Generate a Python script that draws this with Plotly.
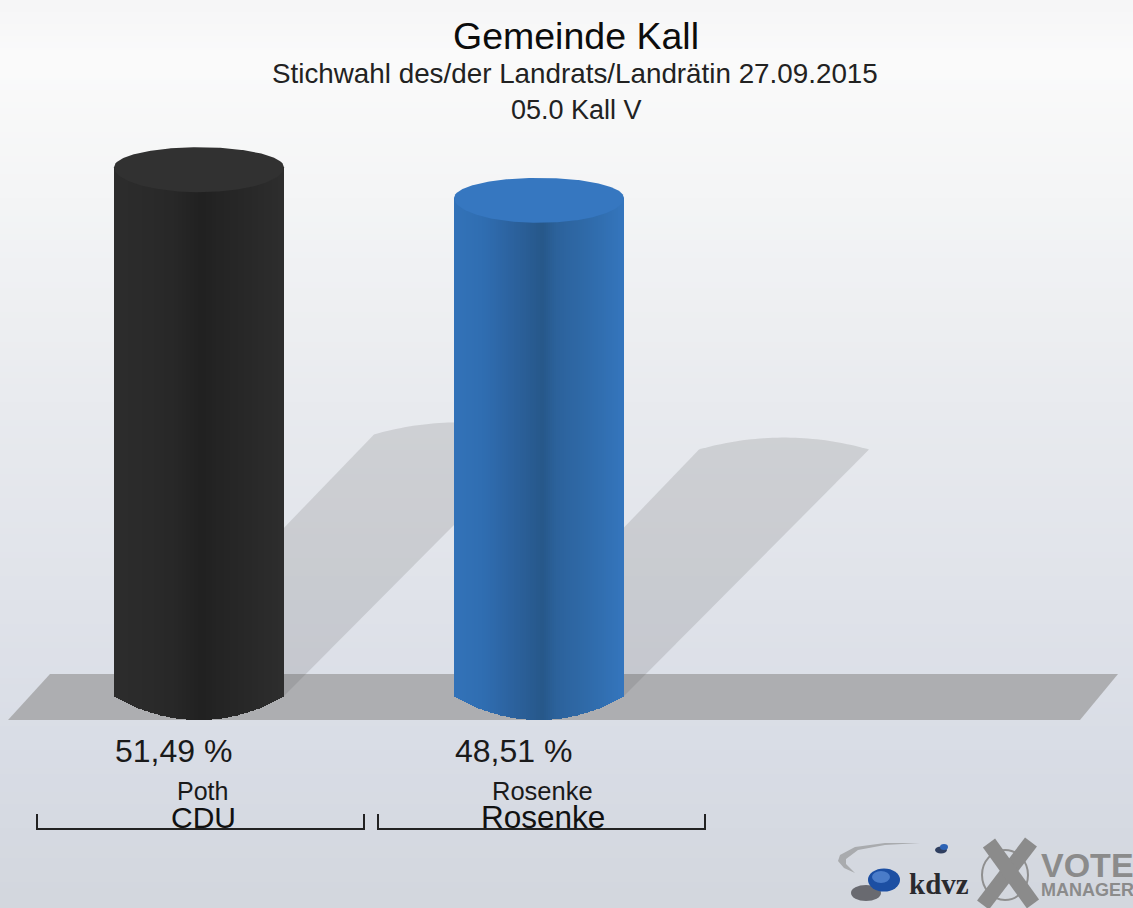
import numpy as np
import plotly.graph_objects as go

# ---- data ----
candidates = ["Poth", "Rosenke"]
parties = ["CDU", "Rosenke"]
values = [51.49, 48.51]
title_lines = ["Gemeinde Kall", "Stichwahl des/der Landrats/Landrätin 27.09.2015", "05.0 Kall V"]

# ---- style ----
W, H = 1133, 908
BASE_PX, PX_PER_UNIT = 696.0, 10.27
FONT = "Liberation Sans"
bar_lefts = [114, 454]
BAR_W = 170
cap_colors = ["#313131", "#3677c0"]
shade_pos = [0.0, 0.17, 0.35, 0.52, 0.6, 0.85, 1.0]
shades = [
    [(45, 45, 45), (43, 43, 43), (40, 40, 40), (33, 33, 33), (36, 36, 36), (42, 42, 42), (46, 46, 46)],
    [(51, 115, 185), (48, 110, 178), (44, 98, 158), (39, 88, 138), (44, 98, 155), (49, 110, 175), (53, 118, 190)],
]


def py(px):
    return (BASE_PX - px) / PX_PER_UNIT


def arc(dx, half, sag):
    R = (half ** 2 + sag ** 2) / (2 * sag)
    return np.sqrt(R ** 2 - dx ** 2) - (R - sag)


def rect(x0, x1, y0, y1, color):
    return dict(type="rect", xref="x", yref="y", x0=x0, x1=x1, y0=py(y0), y1=py(y1),
                fillcolor=color, line=dict(width=0), layer="below")


def lerp_hex(stops, t):
    ys = [s[0] for s in stops]
    return tuple(np.interp(t, ys, [s[1][k] for s in stops]) for k in range(3))


shapes = []

# background: vertical gradient + soft horizontal overlay
row_stops = [(0, (246, 246, 247)), (60, (251, 251, 251)), (200, (244, 245, 246)), (400, (233, 235, 239)),
             (600, (224, 227, 234)), (750, (217, 221, 230)), (908, (211, 215, 222))]
for y in range(0, H, 6):
    c = lerp_hex(row_stops, y + 3)
    shapes.append(rect(0, W, y, y + 6.5, "rgb(%d,%d,%d)" % c))


def path(points):
    return "M " + " L ".join(f"{x:.1f},{y:.3f}" for x, y in points) + " Z"


# floor
floor = [(8, 720), (50, 674), (1118, 674), (1080, 720)]
shapes.append(dict(type="path", xref="x", yref="y", layer="below", fillcolor="#adaeb1", line=dict(width=0),
                   path=path([(x, py(y)) for x, y in floor])))

# cast shadows scale with each value
for left, v in zip(bar_lefts, values):
    sx, sy = v * 5.05, v * 5.08
    pts = [(left + 4, 700), (left + BAR_W, 696), (left + BAR_W + sx, 696 - sy)]
    for t in np.linspace(1, -1, 40):
        pts.append((left + BAR_W / 2 + t * BAR_W / 2 + sx, 696 - sy - arc(t * BAR_W / 2, BAR_W / 2, 12)))
    pts.append((left + sx, 696 - sy))
    shapes.append(dict(type="path", xref="x", yref="y", layer="below", fillcolor="rgba(95,95,95,0.18)",
                       line=dict(width=0), path=path([(x, py(y)) for x, y in pts])))

# brackets under the groups
for x0, x1 in [(37, 364), (378, 705)]:
    shapes.append(dict(type="path", xref="x", yref="y", layer="above", line=dict(color="#222222", width=2),
                       path=f"M {x0},{py(814):.3f} L {x0},{py(829):.3f} L {x1},{py(829):.3f} L {x1},{py(814):.3f}"))

# logo marks
def ell(cx, cy, rx, ry, color, line=None):
    return dict(type="circle", xref="x", yref="y", x0=cx - rx, x1=cx + rx, y0=py(cy + ry), y1=py(cy - ry),
                fillcolor=color, line=line or dict(width=0), layer="above")


swoosh = [(920, 843), (885, 843), (855, 847), (840, 855), (838, 861), (844, 868), (855, 873),
          (846, 864), (846, 859), (858, 850), (885, 845)]
shapes.append(dict(type="path", xref="x", yref="y", layer="above", fillcolor="#a9abae", line=dict(width=0),
                   path=path([(x, py(y)) for x, y in swoosh])))
shapes += [
    ell(866, 893, 15, 8, "rgba(60,60,65,0.7)"),
    ell(884, 880, 16, 11.5, "#1c4fa3"),
    ell(881, 877, 9, 6, "#4a7cc9"),
    ell(941, 850, 6, 3.5, "#2f3f60"),
    ell(944, 847, 4, 3, "#2c62b5"),
    ell(1005, 875, 23, 25, "rgba(0,0,0,0)", dict(color="#8f8f8f", width=2)),
]
for (x0, y0, x1, y1) in [(983, 905, 1031, 842), (989, 843, 1033, 904)]:
    shapes.append(dict(type="line", xref="x", yref="y", x0=x0, y0=py(y0), x1=x1, y1=py(y1), layer="above",
                       line=dict(color="#8b8b8b", width=15)))

fig = go.Figure()

# cylinders: each value draws many narrow shaded bars plus a top cap
for i, (left, v) in enumerate(zip(bar_lefts, values)):
    xs = left + np.arange(1, BAR_W, 2.0)
    t = (xs - left) / BAR_W
    rgb = [np.interp(t, shade_pos, [s[k] for s in shades[i]]) for k in range(3)]
    colors = ["rgb(%d,%d,%d)" % (r, g, b) for r, g, b in zip(*rgb)]
    dx = xs - (left + BAR_W / 2)
    base = -arc(dx, BAR_W / 2, 24) / PX_PER_UNIT
    fig.add_trace(go.Bar(x=xs, y=v - base, base=base, width=2.4, marker=dict(color=colors, line=dict(width=0)),
                         hoverinfo="skip", showlegend=False))
    # cap
    th = np.linspace(-1, 1, 121)
    top_x = left + BAR_W / 2 + th * BAR_W / 2
    top_y = v + 20 * np.sqrt(1 - th ** 2) / PX_PER_UNIT
    bot_x = top_x[::-1]
    bot_y = v - 25 * np.sqrt(1 - th ** 2) / PX_PER_UNIT
    fig.add_trace(go.Scatter(x=np.r_[top_x, bot_x], y=np.r_[top_y, bot_y], mode="lines", fill="toself",
                             fillcolor=cap_colors[i], line=dict(width=0), hoverinfo="skip", showlegend=False))


def label(text, x, y, size, color="#111111"):
    return dict(text=text, x=x, y=py(y), xref="x", yref="y", xanchor="center", yanchor="middle", showarrow=False,
                font=dict(family=FONT, size=size, color=color))


value_texts = [f"{v:.2f} %".replace(".", ",") for v in values]
annotations = [
    label(title_lines[0], 576, 36, 37.5, "#0c0c0c"),
    label(title_lines[1], 575, 73, 27.8, "#222222"),
    label(title_lines[2], 576, 110, 27, "#222222"),
    label(value_texts[0], 173.5, 751, 32, "#1a1a1a"),
    label(value_texts[1], 513.5, 751, 32, "#1a1a1a"),
    label(candidates[0], 202, 791, 25, "#1a1a1a"),
    label(candidates[1], 542.5, 791, 25.5, "#1a1a1a"),
    label(parties[0], 203, 817, 30, "#111111"),
    label(parties[1], 543, 817, 31.5, "#111111"),
    label("kdvz", 939, 884, 29, "#2a2a2e"),
    label("VOTE", 1087, 865, 34, "#8b8b8b"),
    label("MANAGER", 1087, 890, 18, "#8b8b8b"),
]
annotations[9]["font"]["family"] = "Liberation Serif"
for a in annotations[9:]:
    a["text"] = f"<b>{a['text']}</b>"

fig.update_layout(
    width=W, height=H, margin=dict(l=0, r=0, t=0, b=0), paper_bgcolor="#e6e8ec", plot_bgcolor="rgba(0,0,0,0)",
    barmode="overlay", bargap=0, showlegend=False, shapes=shapes, annotations=annotations,
    xaxis=dict(range=[0, W], visible=False, fixedrange=True),
    yaxis=dict(range=[py(H), py(0)], visible=False, fixedrange=True),
)
fig.write_html("out.html", config=dict(displayModeBar=False),
               post_script="document.body.style.margin='0';document.body.style.overflow='hidden';")
